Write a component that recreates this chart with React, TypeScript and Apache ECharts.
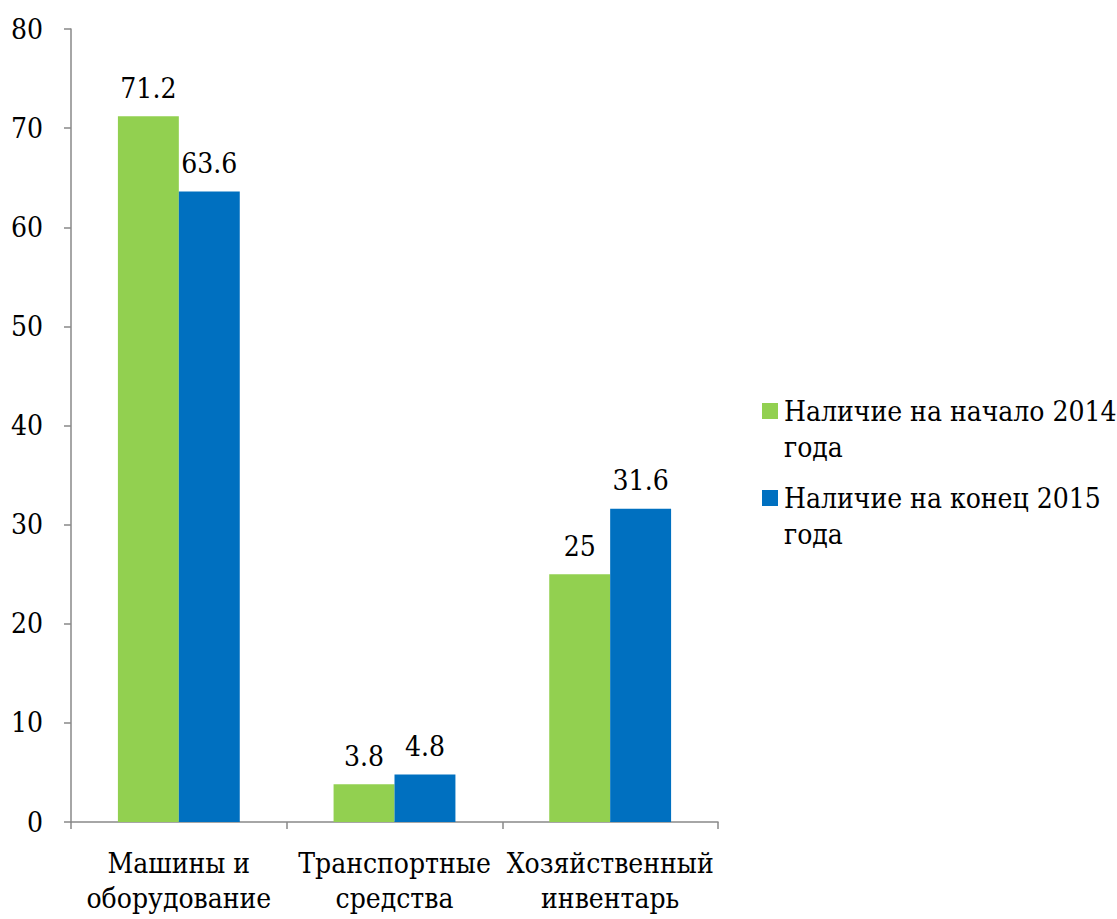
import React, { useEffect, useRef } from "react";
import * as echarts from "echarts";

const categories = ["Машины и\nоборудование", "Транспортные\nсредства", "Хозяйственный\nинвентарь"];
const seriesNames = ["Наличие на начало 2014 года", "Наличие на конец 2015 года"];
const start2014 = [71.2, 3.8, 25];
const end2015 = [63.6, 4.8, 31.6];
const yTicks = { min: 0, max: 80, interval: 10 };

const FONT = "DejaVu Serif Condensed, DejaVu Serif";
const AXIS_COLOR = "#898989";

export default function App() {
  const ref = useRef<HTMLDivElement>(null);

  useEffect(() => {
    if (!ref.current) return;
    const chart = echarts.init(ref.current, undefined, { renderer: "svg" });
    const label = {
      show: true,
      position: "top",
      distance: 14,
      color: "#000",
      fontFamily: FONT,
      fontSize: 28,
    };
    chart.setOption({
      animation: false,
      textStyle: { fontFamily: FONT },
      grid: {
        left: 71,
        right: 399,
        top: 29,
        bottom: 97,
        containLabel: false,
        outerBoundsMode: "none",
      },
      legend: {
        orient: "vertical",
        left: 762,
        top: 357,
        padding: 0,
        itemWidth: 16,
        itemHeight: 16,
        itemGap: -21,
        icon: "rect",
        data: seriesNames,
        // an empty leading line keeps the first text line level with the swatch
        formatter: (name: string) => "\n" + name.replace(/ года$/, "\nгода"),
        textStyle: {
          fontFamily: FONT,
          fontSize: 28,
          color: "#000",
          lineHeight: 36,
          padding: [0, 0, 0, 1],
        },
      },
      xAxis: {
        type: "category",
        data: categories,
        axisLine: { lineStyle: { color: AXIS_COLOR, width: 1.5 } },
        axisTick: { show: true, length: 7, lineStyle: { color: AXIS_COLOR, width: 1.5 } },
        axisLabel: {
          interval: 0,
          margin: 24,
          color: "#000",
          fontFamily: FONT,
          fontSize: 28,
          lineHeight: 35,
        },
      },
      yAxis: {
        type: "value",
        min: yTicks.min,
        max: yTicks.max,
        interval: yTicks.interval,
        axisLine: { show: true, lineStyle: { color: AXIS_COLOR, width: 1.5 } },
        axisTick: { show: true, length: 7, lineStyle: { color: AXIS_COLOR, width: 1.5 } },
        splitLine: { show: false },
        axisLabel: { margin: 28, color: "#000", fontFamily: FONT, fontSize: 28 },
      },
      series: [
        {
          name: seriesNames[0],
          type: "bar",
          data: start2014,
          barGap: "0%",
          barCategoryGap: "43.5%",
          itemStyle: { color: "#92D050" },
          label,
        },
        {
          name: seriesNames[1],
          type: "bar",
          data: end2015,
          barGap: "0%",
          barCategoryGap: "43.5%",
          itemStyle: { color: "#0070C0" },
          label,
        },
      ],
    });
    return () => chart.dispose();
  }, []);

  return (
    <div
      ref={ref}
      style={{ position: "fixed", left: 0, top: 0, width: 1117, height: 919, background: "#fff" }}
    />
  );
}
